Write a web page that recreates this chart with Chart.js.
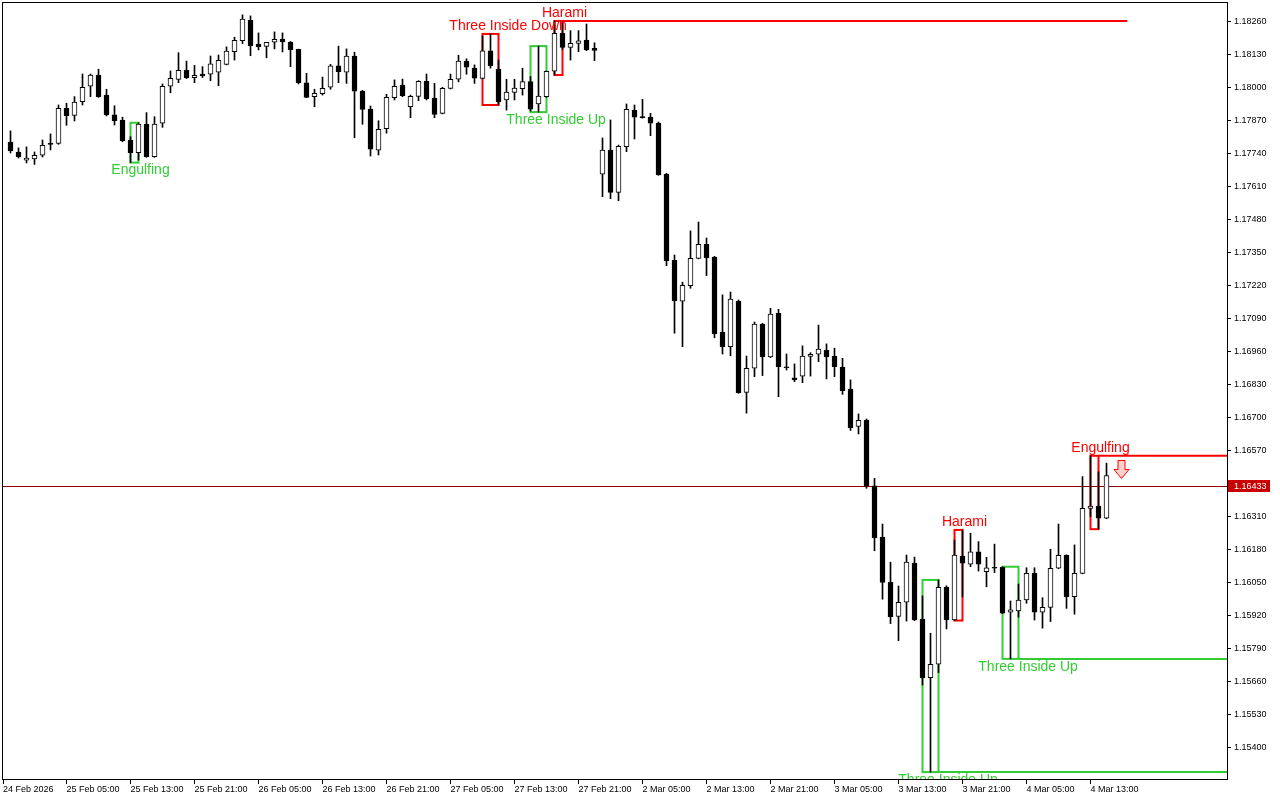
<!DOCTYPE html>
<html lang="en">
<head>
<meta charset="UTF-8">
<title>EURUSD H1 - candlestick patterns</title>
<script src="https://cdn.jsdelivr.net/npm/chart.js"></script>
<style>
  html, body { margin: 0; padding: 0; background: #fff; }
  #wrap { width: 1280px; height: 800px; }
</style>
</head>
<body>
<div id="wrap"><canvas id="chart" width="1280" height="800"></canvas></div>
<script>
// H1 candles, 24 Feb 22:00 .. 4 Mar 15:00 (index 0..137)
const opens = [1.17787,1.17748,1.17716,1.17721,1.17735,1.17783,1.17782,1.17920,1.17892,1.17946,
  1.18007,1.18051,1.17972,1.17894,1.17874,1.17795,1.17745,1.17858,1.17729,1.17861,
  1.18007,1.18034,1.18070,1.18041,1.18055,1.18054,1.18062,1.18093,1.18143,1.18186,
  1.18267,1.18173,1.18164,1.18180,1.18192,1.18181,1.18152,1.18020,1.17966,1.17978,
  1.18003,1.18087,1.18062,1.18126,1.17988,1.17917,1.17755,1.17840,1.17962,1.18011,
  1.17926,1.17967,1.18026,1.17959,1.17900,1.17998,1.18035,1.18106,1.18078,1.18038,
  1.18146,1.18074,1.17953,1.17983,1.17997,1.18025,1.17937,1.17966,1.18066,1.18215,
  1.18160,1.18176,1.18189,1.18156,1.17660,1.17755,1.17589,1.17769,1.17912,1.17886,
  1.17885,1.17862,1.17661,1.17321,1.17160,1.17221,1.17329,1.17384,1.17334,1.17038,
  1.16981,1.17161,1.16801,1.16896,1.17070,1.16941,1.17112,1.16900,1.16858,1.16865,
  1.16943,1.16951,1.16967,1.16944,1.16901,1.16814,1.16667,1.16692,1.16433,1.16231,
  1.16053,1.15918,1.15974,1.16128,1.15908,1.15677,1.15730,1.16033,1.15904,1.16156,
  1.16124,1.16173,1.16095,1.16111,1.16112,1.15935,1.15940,1.15983,1.16088,1.15935,
  1.15954,1.16108,1.16159,1.15996,1.16088,1.16344,1.16353,1.16305];
const highs = [1.17831,1.17764,1.17768,1.17748,1.17795,1.17819,1.17933,1.17940,1.17966,1.18055,
  1.18055,1.18074,1.17995,1.17930,1.17885,1.17808,1.17863,1.17903,1.17887,1.18016,
  1.18067,1.18139,1.18106,1.18089,1.18084,1.18126,1.18130,1.18162,1.18200,1.18288,
  1.18284,1.18217,1.18180,1.18221,1.18217,1.18183,1.18153,1.18058,1.17995,1.18043,
  1.18093,1.18165,1.18154,1.18141,1.17991,1.17929,1.17871,1.17975,1.18032,1.18035,
  1.17972,1.18029,1.18055,1.18018,1.18003,1.18055,1.18129,1.18115,1.18091,1.18205,
  1.18213,1.18110,1.18034,1.18034,1.18078,1.18045,1.18165,1.18067,1.18264,1.18260,
  1.18226,1.18226,1.18252,1.18178,1.17803,1.17874,1.17775,1.17937,1.17933,1.17955,
  1.17900,1.17866,1.17664,1.17342,1.17235,1.17437,1.17472,1.17409,1.17337,1.17185,
  1.17196,1.17165,1.16944,1.17078,1.17073,1.17132,1.17128,1.16952,1.16913,1.16984,
  1.16957,1.17066,1.16992,1.16975,1.16935,1.16850,1.16716,1.16696,1.16462,1.16282,
  1.16132,1.16038,1.16160,1.16152,1.15999,1.15852,1.16062,1.16039,1.16219,1.16259,
  1.16246,1.16213,1.16151,1.16203,1.16114,1.15979,1.16046,1.16110,1.16110,1.15992,
  1.16183,1.16282,1.16161,1.16200,1.16469,1.16551,1.16488,1.16522];
const lows = [1.17744,1.17724,1.17705,1.17699,1.17728,1.17756,1.17778,1.17853,1.17870,1.17933,
  1.17966,1.17963,1.17890,1.17854,1.17788,1.17706,1.17716,1.17727,1.17727,1.17845,
  1.17981,1.18021,1.18037,1.18021,1.18041,1.18029,1.18009,1.18091,1.18110,1.18175,
  1.18127,1.18150,1.18119,1.18154,1.18142,1.18084,1.18016,1.17962,1.17926,1.17972,
  1.17995,1.18021,1.18018,1.17804,1.17857,1.17732,1.17736,1.17822,1.17953,1.17966,
  1.17883,1.17950,1.17953,1.17883,1.17898,1.17996,1.18024,1.18054,1.18018,1.18036,
  1.18078,1.17933,1.17913,1.17953,1.17972,1.17909,1.17905,1.17963,1.18051,1.18152,
  1.18110,1.18143,1.18147,1.18108,1.17572,1.17564,1.17556,1.17749,1.17799,1.17881,
  1.17812,1.17656,1.17300,1.17034,1.16981,1.17211,1.17327,1.17261,1.17016,1.16952,
  1.16945,1.16797,1.16719,1.16863,1.16867,1.16938,1.16784,1.16889,1.16843,1.16839,
  1.16865,1.16922,1.16854,1.16863,1.16793,1.16651,1.16637,1.16423,1.16177,1.15986,
  1.15890,1.15823,1.15900,1.15902,1.15648,1.15305,1.15697,1.15869,1.15902,1.15995,
  1.16114,1.16097,1.16035,1.16091,1.15929,1.15751,1.15915,1.15970,1.15904,1.15872,
  1.15898,1.16106,1.15950,1.15927,1.16086,1.16311,1.16262,1.16303];
const closes = [1.17752,1.17728,1.17724,1.17735,1.17774,1.17778,1.17920,1.17891,1.17944,1.18003,
  1.18051,1.17966,1.17894,1.17871,1.17792,1.17745,1.17858,1.17729,1.17858,1.18007,
  1.18038,1.18070,1.18041,1.18050,1.18048,1.18095,1.18109,1.18145,1.18188,1.18271,
  1.18167,1.18163,1.18180,1.18192,1.18181,1.18151,1.18021,1.17963,1.17979,1.17999,
  1.18087,1.18064,1.18126,1.17987,1.17916,1.17759,1.17837,1.17963,1.18007,1.17970,
  1.17967,1.18026,1.17958,1.17896,1.17999,1.18034,1.18106,1.18082,1.18039,1.18146,
  1.18088,1.17946,1.17984,1.18000,1.18025,1.17917,1.17968,1.18066,1.18215,1.18160,
  1.18176,1.18186,1.18150,1.18148,1.17755,1.17589,1.17770,1.17916,1.17885,1.17883,
  1.17861,1.17658,1.17320,1.17162,1.17223,1.17329,1.17384,1.17331,1.17032,1.16981,
  1.17168,1.16800,1.16896,1.17070,1.16941,1.17109,1.16902,1.16898,1.16851,1.16944,
  1.16951,1.16971,1.16941,1.16902,1.16808,1.16661,1.16691,1.16432,1.16228,1.16052,
  1.15917,1.15974,1.16132,1.15904,1.15677,1.15730,1.16033,1.15904,1.16160,1.16128,
  1.16173,1.16124,1.16110,1.16108,1.15931,1.15944,1.15983,1.16088,1.15935,1.15954,
  1.16108,1.16159,1.15996,1.16088,1.16344,1.16353,1.16305,1.16473];

const lastPrice = 1.16433;

// time axis labels and the candle index they belong to
const tickLabels = ['24 Feb 2026','25 Feb 05:00','25 Feb 13:00','25 Feb 21:00','26 Feb 05:00','26 Feb 13:00',
  '26 Feb 21:00','27 Feb 05:00','27 Feb 13:00','27 Feb 21:00','2 Mar 05:00','2 Mar 13:00','2 Mar 21:00',
  '3 Mar 05:00','3 Mar 13:00','3 Mar 21:00','4 Mar 05:00','4 Mar 13:00'];
const tickCandles = [-1,7,15,23,31,39,47,55,63,71,79,87,95,103,111,119,127,135];
const priceTicks = [1.18260,1.18130,1.18000,1.17870,1.17740,1.17610,1.17480,1.17350,1.17220,1.17090,
  1.16960,1.16830,1.16700,1.16570,1.16310,1.16180,1.16050,1.15920,1.15790,1.15660,1.15530,1.15400];

// detected patterns
const patternNames = ['Engulfing','Three Inside Down','Three Inside Up','Harami','Three Inside Up','Harami','Three Inside Up','Engulfing'];
const patternStart = [15, 59, 65, 68, 114, 118, 124, 135];
const patternEnd   = [16, 61, 67, 69, 116, 119, 126, 136];
const patternBull  = [true, false, true, false, true, false, true, false];
const levelUntil   = [null, null, null, 139.6, 152.1, null, 152.1, 152.1];
const signalArrow  = [null, null, null, null, null, null, null, 138.8];

const GREEN = '#32cd32';
const RED = '#ff0000';
const FONT = '"Liberation Sans", Arial, sans-serif';
const xMin = -0.9375, xMax = 152.0625;

const wicks = opens.map((o, i) => ({ x: i, y: [lows[i], highs[i]] }));
const bodies = opens.map((o, i) => ({ x: i, y: [o, closes[i]] }));
const bodyFill = opens.map((o, i) => closes[i] > o ? '#ffffff' : '#000000');

const overlay = {
  id: 'overlay',
  beforeDatasetsDraw(chart) {
    const { ctx, chartArea: a, scales: { x, y } } = chart;
    ctx.save();
    ctx.beginPath();
    ctx.rect(a.left, a.top, a.right - a.left, a.bottom - a.top);
    ctx.clip();

    // bid line
    const py = Math.round(y.getPixelForValue(lastPrice)) + 0.5;
    ctx.strokeStyle = '#900000';
    ctx.lineWidth = 1;
    ctx.beginPath();
    ctx.moveTo(a.left, py);
    ctx.lineTo(a.right, py);
    ctx.stroke();

    // pattern boxes and levels
    patternNames.forEach((name, i) => {
      const s = patternStart[i], e = patternEnd[i];
      const hi = Math.max(...highs.slice(s, e + 1));
      const lo = Math.min(...lows.slice(s, e + 1));
      const x1 = x.getPixelForValue(s), x2 = x.getPixelForValue(e);
      const y1 = y.getPixelForValue(hi), y2 = y.getPixelForValue(lo);
      ctx.strokeStyle = patternBull[i] ? GREEN : RED;
      ctx.lineWidth = 2;
      ctx.strokeRect(x1, y1, x2 - x1, y2 - y1);
      if (levelUntil[i] !== null) {
        const ly = patternBull[i] ? y2 : y1;
        ctx.beginPath();
        ctx.moveTo(x2, ly);
        ctx.lineTo(x.getPixelForValue(levelUntil[i]), ly);
        ctx.stroke();
      }
    });
    ctx.restore();
  },
  afterDatasetsDraw(chart) {
    const { ctx, chartArea: a, scales: { x, y } } = chart;
    ctx.save();
    ctx.beginPath();
    ctx.rect(a.left, a.top, a.right - a.left, a.bottom - a.top);
    ctx.clip();
    ctx.font = '14px ' + FONT;
    ctx.textAlign = 'center';
    ctx.textBaseline = 'middle';
    patternNames.forEach((name, i) => {
      const s = patternStart[i], e = patternEnd[i];
      const hi = Math.max(...highs.slice(s, e + 1));
      const lo = Math.min(...lows.slice(s, e + 1));
      const y1 = y.getPixelForValue(hi), y2 = y.getPixelForValue(lo);
      const lx = x.getPixelForValue(e + (e - s === 2 ? 1.2 : 0.25));
      const ly = patternBull[i] ? y2 + 8 : y1 - 8;
      ctx.fillStyle = patternBull[i] ? GREEN : RED;
      ctx.fillText(name, lx, ly);

      // sell arrow
      if (signalArrow[i] !== null) {
        const ax = Math.round(x.getPixelForValue(signalArrow[i])) + 0.5;
        const ay = Math.round(y1) + 4.5;
        ctx.beginPath();
        ctx.moveTo(ax - 3.5, ay);
        ctx.lineTo(ax + 3.5, ay);
        ctx.lineTo(ax + 3.5, ay + 9);
        ctx.lineTo(ax + 7.5, ay + 9);
        ctx.lineTo(ax, ay + 18);
        ctx.lineTo(ax - 7.5, ay + 9);
        ctx.lineTo(ax - 3.5, ay + 9);
        ctx.closePath();
        ctx.fillStyle = '#ffd0d0';
        ctx.fill();
        ctx.strokeStyle = RED;
        ctx.lineWidth = 1;
        ctx.stroke();
      }
    });
    ctx.restore();
  },
  afterDraw(chart) {
    const { ctx, chartArea: a, scales: { y } } = chart;
    ctx.save();
    // frame
    ctx.strokeStyle = '#000';
    ctx.lineWidth = 1;
    ctx.strokeRect(a.left - 0.5, a.top - 0.5, a.right - a.left + 1, a.bottom - a.top + 1);
    // last price tag
    const py = Math.round(y.getPixelForValue(lastPrice));
    ctx.fillStyle = '#c80000';
    ctx.fillRect(a.right + 1, py - 6, 42, 12);
    ctx.fillStyle = '#fff';
    ctx.font = '9px ' + FONT;
    ctx.textAlign = 'left';
    ctx.textBaseline = 'middle';
    ctx.fillText(lastPrice.toFixed(5), a.right + 7, py + 0.5);
    ctx.restore();
  }
};

function zeroPad(s) {
  s.paddingLeft = 0; s.paddingRight = 0; s.paddingTop = 0; s.paddingBottom = 0;
}

new Chart(document.getElementById('chart'), {
  type: 'bar',
  data: {
    datasets: [
      {
        label: 'body',
        data: bodies,
        backgroundColor: bodyFill,
        borderColor: '#000',
        borderWidth: 1,
        borderSkipped: false,
        barThickness: 5,
        minBarLength: 1,
        grouped: false,
        order: 1
      },
      {
        label: 'wick',
        data: wicks,
        backgroundColor: '#000',
        borderWidth: 0,
        barThickness: 1,
        grouped: false,
        order: 2
      }
    ]
  },
  options: {
    responsive: false,
    animation: false,
    layout: { padding: { left: 3, top: 3, right: 0, bottom: 0 } },
    plugins: { legend: { display: false }, tooltip: { enabled: false } },
    scales: {
      x: {
        type: 'linear',
        offset: false,
        min: xMin,
        max: xMax,
        afterBuildTicks: s => { s.ticks = tickCandles.map(v => ({ value: Math.max(v, xMin) })); },
        afterFit: s => { s.height = 21; zeroPad(s); },
        ticks: {
          autoSkip: false,
          maxRotation: 0,
          align: 'start',
          padding: 0,
          color: '#000',
          font: { family: FONT, size: 9 },
          callback: (v, i) => tickLabels[i]
        },
        grid: { offset: false, drawOnChartArea: false, drawTicks: true, tickLength: 5, color: '#000' },
        border: { display: true, color: '#000' }
      },
      y: {
        type: 'linear',
        position: 'right',
        min: 1.152778,
        max: 1.183348,
        afterBuildTicks: s => { s.ticks = priceTicks.map(v => ({ value: v })); },
        afterFit: s => { s.width = 53; zeroPad(s); },
        ticks: {
          padding: 3,
          color: '#000',
          font: { family: FONT, size: 9 },
          callback: v => v.toFixed(5)
        },
        grid: { drawOnChartArea: false, drawTicks: true, tickLength: 4, color: '#000' },
        border: { display: true, color: '#000' }
      }
    }
  },
  plugins: [overlay]
});
</script>
</body>
</html>
